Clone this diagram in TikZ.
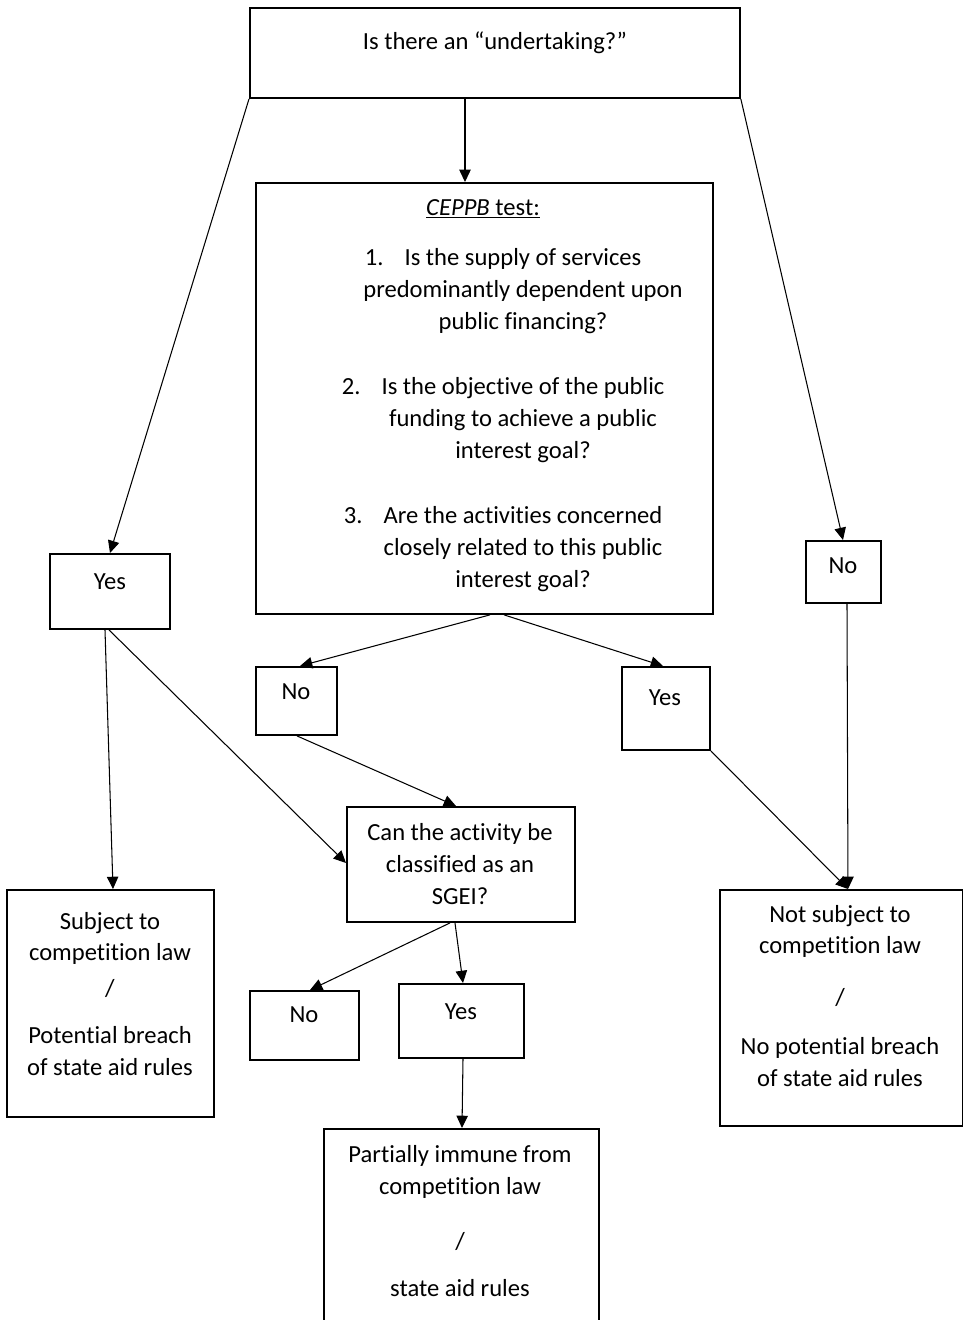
\documentclass[tikz,border=0pt]{standalone}
\usepackage{fontspec}
\setmainfont{Carlito}[RawFeature={-liga}]
\usetikzlibrary{arrows.meta,calc}
\tikzset{
  box/.style={draw, line width=1.1pt, rectangle, inner sep=0pt, anchor=north west},
  txt/.style={align=center, inner sep=0pt, font=\fontsize{14}{18.2}\selectfont},
  arr/.style={line width=0.6pt, -{Triangle[length=7pt,width=6.5pt]}}
}
\begin{document}
\begin{tikzpicture}[x=0.02cm, y=-0.02cm]
\useasboundingbox (0,0) rectangle (963,1320);
%\draw (0,0) grid[step=100] (963,1320);

% boxes
\node[box, minimum width=9.8cm, minimum height=1.8cm] (undert) at (249,7) {};
\node[box, minimum width=9.14cm, minimum height=8.62cm] (ceppb) at (255,182) {};
\node[box, minimum width=2.4cm, minimum height=1.5cm] (yesl) at (49,553) {};
\node[box, minimum width=1.5cm, minimum height=1.24cm] (nor) at (805,540) {};
\node[box, minimum width=1.62cm, minimum height=1.36cm] (nom) at (255,666) {};
\node[box, minimum width=1.76cm, minimum height=1.66cm] (yesm) at (621,666) {};
\node[box, minimum width=4.56cm, minimum height=2.3cm] (sgei) at (346,806) {};
\node[box, minimum width=4.14cm, minimum height=4.54cm] (subj) at (6,889) {};
\node[box, minimum width=4.86cm, minimum height=4.72cm] (notsubj) at (719,889) {};
\node[box, minimum width=2.18cm, minimum height=1.38cm] (nob) at (249,990) {};
\node[box, minimum width=2.5cm, minimum height=1.48cm] (yesb) at (398,983) {};
\node[box, minimum width=5.5cm, minimum height=3.84cm] (partial) at (323,1128) {};

% texts
\node[txt] (underttxt) at (495,43) {Is there an “undertaking?”};
\node[txt] (ceppbtitle) at (483,209) {\underline{\textit{CEPPB} test:}};
\node[txt] (ceppbtxt) at (523,420) {\llap{1.\hspace{12pt}}Is the supply of services\\
  predominantly dependent upon\\ public financing?\\[0.66cm]
  \llap{2.\hspace{12pt}}Is the objective of the public\\ funding to achieve a public\\
  interest goal?\\[0.66cm]
  \llap{3.\hspace{12pt}}Are the activities concerned\\ closely related to this public\\
  interest goal?};
\node[txt] (yesltxt) at (110,582) {Yes};
\node[txt] (nortxt) at (843,566) {No};
\node[txt] (nomtxt) at (296,692) {No};
\node[txt] (yesmtxt) at (665,698) {Yes};
\node[txt] (sgeitxt) at (460,864) {Can the activity be\\ classified as an\\ SGEI?};
\node[txt] (subjtxt) at (110,994) {Subject to\\ competition law\\[0.08cm] /\\[0.3cm]
  Potential breach\\ of state aid rules};
\node[txt] (notsubjtxt) at (840,996) {Not subject to\\ competition law\\[0.4cm] /\\[0.34cm]
  No potential breach\\ of state aid rules};
\node[txt] (nobtxt) at (304,1015) {No};
\node[txt] (yesbtxt) at (461,1012) {Yes};
\node[txt] (partialtxt) at (460,1221) {Partially immune from\\ competition law\\[0.46cm] /\\[0.3cm]
  state aid rules};

% connectors
\draw[arr] ($(undert.south west)+(216,0)$) -- ($(ceppb.north west)+(210,0)$);
\draw[arr] (undert.south west) -- ($(yesl.north west)+(61,0)$);
\draw[arr] (undert.south east) -- ($(nor.north west)+(38,0)$);
\draw[arr] ($(ceppb.south west)+(235,0)$) -- ($(nom.north west)+(45,0)$);
\draw[arr] ($(ceppb.south west)+(249,0)$) -- ($(yesm.north west)+(42,0)$);
\draw[arr] ($(nom.south west)+(42,0)$) -- ($(sgei.north west)+(110,0)$);
\draw[arr] ($(yesl.south west)+(56,0)$) -- ($(subj.north west)+(107,0)$);
\draw[arr] ($(yesl.south west)+(60,0)$) -- ($(sgei.north west)+(0,57)$);
\draw[arr] (yesm.south east) -- ($(notsubj.north west)+(129,0)$);
\draw[arr] ($(nor.south west)+(42,0)$) -- ($(notsubj.north west)+(129,0)$);
\draw[arr] ($(sgei.south west)+(104,0)$) -- ($(nob.north west)+(61,0)$);
\draw[arr] ($(sgei.south west)+(109,0)$) -- ($(yesb.north west)+(65,0)$);
\draw[arr] ($(yesb.south west)+(65,0)$) -- ($(partial.north west)+(139,0)$);
\end{tikzpicture}
\end{document}
